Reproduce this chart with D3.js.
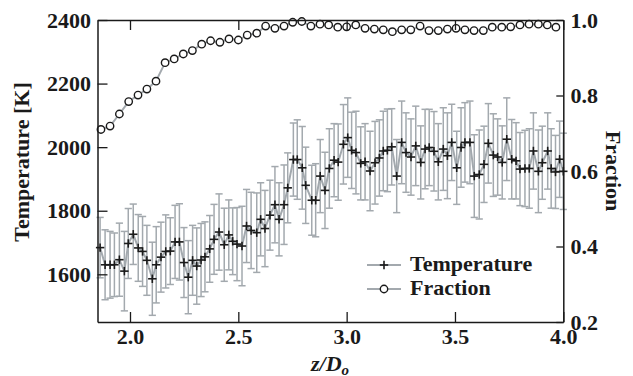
<!DOCTYPE html>
<html>
<head>
<meta charset="utf-8">
<script src="https://cdn.jsdelivr.net/npm/d3@7"></script>
<style>
  html, body { margin: 0; padding: 0; background: #fff; }
  svg { display: block; }
  text { font-family: "Liberation Serif", "Times New Roman", serif; font-weight: bold; fill: #1a1a1a; }
</style>
</head>
<body>
<svg id="chart" width="633" height="376"></svg>
<script>
// ---------------- data ----------------
const tempZ = [1.862,1.885,1.908,1.928,1.951,1.974,1.992,2.015,2.038,2.058,
  2.078,2.103,2.121,2.143,2.165,2.186,2.208,2.228,2.249,2.269,
  2.289,2.308,2.328,2.346,2.368,2.388,2.411,2.435,2.456,2.474,
  2.494,2.517,2.538,2.559,2.585,2.603,2.623,2.646,2.669,2.688,
  2.711,2.728,2.754,2.772,2.795,2.811,2.839,2.857,2.878,2.900,
  2.920,2.942,2.961,2.985,3.005,3.023,3.043,3.065,3.085,3.108,
  3.131,3.151,3.169,3.188,3.208,3.231,3.254,3.274,3.297,3.319,
  3.342,3.362,3.381,3.403,3.423,3.446,3.465,3.485,3.508,3.528,
  3.546,3.569,3.589,3.612,3.634,3.654,3.677,3.697,3.718,3.739,
  3.762,3.782,3.800,3.823,3.843,3.862,3.885,3.903,3.928,3.944,
  3.964,3.983,4.000];
const temperature = [1684,1630,1630,1630,1646,1610,1697,1726,1683,1672,
  1644,1586,1630,1654,1672,1673,1702,1702,1637,1591,
  1644,1626,1645,1655,1680,1710,1733,1693,1724,1704,
  1695,1689,1752,1738,1731,1773,1744,1786,1819,1773,
  1819,1872,1961,1961,1935,1880,1833,1833,1909,1864,
  1933,1959,1953,2009,2030,1990,1983,1949,1954,1925,
  1951,1966,1988,1990,2001,1909,2015,1983,1969,2004,
  1952,1994,1999,1987,1954,1994,1973,2015,1935,1999,
  2015,2015,1909,1914,1946,2012,1975,1969,1952,2025,
  1962,1957,1931,1933,1933,1988,1924,1951,1988,1933,
  1922,1962,1924];
const tempError = [95,110,105,100,115,125,110,95,105,110,
  110,115,120,110,115,105,115,120,110,115,
  110,120,115,110,105,110,120,115,110,105,
  115,125,115,120,125,115,120,110,120,115,
  125,110,115,125,130,120,110,115,115,120,
  125,115,120,125,125,120,130,115,120,125,
  130,120,125,130,120,115,130,125,120,125,
  115,125,120,125,120,130,135,120,115,125,
  125,130,130,140,120,125,130,120,115,130,
  125,120,115,120,125,120,130,115,120,125,
  115,120,120];

const fracZ = [1.866,1.908,1.951,1.994,2.037,2.078,2.120,2.162,2.204,2.246,
  2.288,2.331,2.372,2.415,2.457,2.500,2.541,2.585,2.626,2.669,
  2.711,2.751,2.793,2.835,2.877,2.917,2.959,3.000,3.042,3.085,
  3.128,3.169,3.211,3.254,3.296,3.339,3.380,3.423,3.465,3.505,
  3.546,3.588,3.631,3.672,3.716,3.757,3.800,3.842,3.885,3.926,
  3.966];
const fraction = [0.710,0.719,0.751,0.784,0.801,0.817,0.838,0.887,0.897,0.910,
  0.919,0.936,0.945,0.941,0.950,0.947,0.960,0.965,0.984,0.978,
  0.984,0.994,0.996,0.984,0.989,0.987,0.981,0.982,0.987,0.978,
  0.976,0.974,0.969,0.974,0.974,0.984,0.972,0.972,0.976,0.978,
  0.974,0.972,0.972,0.981,0.981,0.982,0.987,0.989,0.989,0.987,
  0.981];

const xTicks = [2.0, 2.5, 3.0, 3.5, 4.0];
const tempTicks = [1600, 1800, 2000, 2200, 2400];
const fracTicks = [0.2, 0.4, 0.6, 0.8, 1.0];
const seriesNames = ["Temperature", "Fraction"];

// ---------------- layout ----------------
const L = 97.5, R = 563.3, T = 20, B = 322;
const grey = "#a3a9ae";
const ink = "#1a1a1a";
const fs = 22;

const svg = d3.select("#chart");
const x = d3.scaleLinear().domain([1.85, 4.0]).range([L, R]);
const yT = d3.scaleLinear().domain([1450, 2400]).range([B, T]);
const yF = d3.scaleLinear().domain([0.2, 1.0]).range([B, T]);

const tData = tempZ.map((z, i) => ({z, v: temperature[i], e: tempError[i]}));
const fData = fracZ.map((z, i) => ({z, v: fraction[i]}));

// error bars
const eb = svg.append("g").attr("stroke", grey).attr("stroke-width", 1.5).attr("fill", "none");
tData.forEach(d => {
  const cx = x(d.z), y1 = yT(d.v + d.e), y2 = yT(d.v - d.e);
  eb.append("line").attr("x1", cx).attr("x2", cx).attr("y1", y1).attr("y2", y2);
  eb.append("line").attr("x1", cx - 3.6).attr("x2", cx + 3.6).attr("y1", y1).attr("y2", y1);
  eb.append("line").attr("x1", cx - 3.6).attr("x2", cx + 3.6).attr("y1", y2).attr("y2", y2);
});

// temperature line
svg.append("path").datum(tData)
  .attr("fill", "none").attr("stroke", grey).attr("stroke-width", 2)
  .attr("d", d3.line().x(d => x(d.z)).y(d => yT(d.v)));

// plus markers
const plus = (g, cx, cy) => {
  g.append("line").attr("x1", cx - 4.2).attr("x2", cx + 4.2).attr("y1", cy).attr("y2", cy);
  g.append("line").attr("x1", cx).attr("x2", cx).attr("y1", cy - 4.2).attr("y2", cy + 4.2);
};
const pm = svg.append("g").attr("stroke", ink).attr("stroke-width", 1.6);
tData.forEach(d => plus(pm, x(d.z), yT(d.v)));

// fraction line + circles
svg.append("path").datum(fData)
  .attr("fill", "none").attr("stroke", grey).attr("stroke-width", 2)
  .attr("d", d3.line().x(d => x(d.z)).y(d => yF(d.v)));
svg.append("g").selectAll("circle").data(fData).join("circle")
  .attr("cx", d => x(d.z)).attr("cy", d => yF(d.v)).attr("r", 3.7)
  .attr("fill", "#fff").attr("stroke", ink).attr("stroke-width", 1.4);

// axes
function styleAxis(g) {
  g.selectAll(".domain").attr("stroke", ink).attr("stroke-width", 1.5);
  g.selectAll(".tick line").attr("stroke", ink).attr("stroke-width", 1.3);
  g.selectAll("text").attr("font-family", null).attr("font-size", null)
    .style("font-size", fs + "px").attr("fill", ink);
  g.attr("font-family", null).attr("font-size", null);
}
svg.append("g").attr("transform", `translate(0,${B})`)
  .call(d3.axisBottom(x).tickValues(xTicks).tickFormat(d3.format(".1f"))
    .tickSizeInner(-10).tickSizeOuter(0).tickPadding(6.4))
  .call(styleAxis);
svg.append("g").attr("transform", `translate(0,${T})`)
  .call(d3.axisTop(x).tickValues(xTicks).tickFormat("")
    .tickSizeInner(-10).tickSizeOuter(0))
  .call(styleAxis);
svg.append("g").attr("transform", `translate(${L},0)`)
  .call(d3.axisLeft(yT).tickValues(tempTicks).tickFormat(d3.format("d"))
    .tickSizeInner(-10).tickSizeOuter(0).tickPadding(6.5))
  .call(styleAxis);
svg.append("g").attr("transform", `translate(${R},0)`)
  .call(d3.axisRight(yF).tickValues(fracTicks).tickFormat(d3.format(".1f"))
    .tickSizeInner(-7).tickSizeOuter(0).tickPadding(7.2))
  .call(styleAxis);

// axis titles
svg.append("text").attr("transform", "translate(29,162) rotate(-90)")
  .attr("text-anchor", "middle").style("font-size", fs + "px").text("Temperature [K]");
svg.append("text").attr("transform", "translate(606,171) rotate(90)")
  .attr("text-anchor", "middle").style("font-size", fs + "px").text("Fraction");
const xl = svg.append("text").attr("x", 330).attr("y", 371)
  .attr("text-anchor", "middle").style("font-size", fs + "px").style("font-style", "italic");
xl.append("tspan").text("z/D");
xl.append("tspan").attr("dy", 4).style("font-size", "15px").text("o");

// legend
const leg = svg.append("g");
[{name: seriesNames[0], y: 265, kind: "plus"}, {name: seriesNames[1], y: 289, kind: "circle"}]
.forEach(it => {
  leg.append("line").attr("x1", 367).attr("x2", 401).attr("y1", it.y).attr("y2", it.y)
    .attr("stroke", grey).attr("stroke-width", 2);
  if (it.kind === "plus") {
    const g = leg.append("g").attr("stroke", ink).attr("stroke-width", 1.6);
    plus(g, 384, it.y);
  } else {
    leg.append("circle").attr("cx", 384).attr("cy", it.y).attr("r", 3.7)
      .attr("fill", "#fff").attr("stroke", ink).attr("stroke-width", 1.4);
  }
  leg.append("text").attr("x", 410).attr("y", it.y + 5.5)
    .style("font-size", fs + "px").text(it.name);
});
</script>
</body>
</html>
